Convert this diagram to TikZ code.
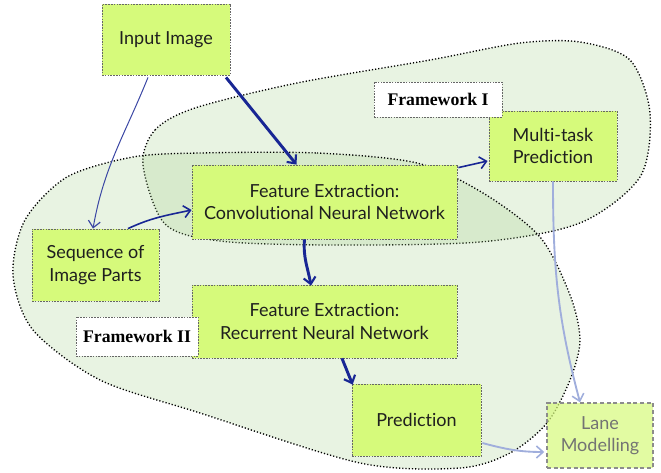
\documentclass[tikz,border=0pt]{standalone}
\usepackage{fontspec}
\setmainfont{Lato}[Ligatures=NoCommon]
\newfontfamily\framefont{Liberation Serif}
\usepackage{tikz}
\usetikzlibrary{arrows.meta}
\usetikzlibrary{calc}
\definecolor{limebox}{RGB}{214,250,123}
\definecolor{blobgreen}{RGB}{163,207,139}
\definecolor{navyarrow}{RGB}{24,38,148}
\definecolor{softarrow}{RGB}{160,174,220}
\tikzset{
	block/.style={draw=black!60, dash pattern=on 1.2pt off 0.9pt, line width=0.6pt,
		fill=limebox, text=black!88, align=center, inner sep=0pt,
		font=\fontsize{13.5}{16.8}\selectfont},
	fadedblock/.style={block, draw=black!45, line width=1.1pt, dash pattern=on 3pt off 2pt,
		fill opacity=0.7, text opacity=1, text=black!55},
	framelabel/.style={draw=black!60, dash pattern=on 1.2pt off 0.9pt, line width=0.6pt,
		fill=white, inner sep=0pt, font=\framefont\bfseries\fontsize{13.3}{16}\selectfont},
	blob/.style={draw=black, line width=1pt, dash pattern=on 0.9pt off 1.5pt,
		fill=blobgreen, fill opacity=0.25},
	flow/.style={draw=navyarrow, line width=2.2pt,
		-{Straight Barb[length=5pt,width=9pt,line width=1.6pt]}},
	midflow/.style={draw=navyarrow, line width=1.2pt,
		-{Straight Barb[length=5pt,width=9pt,line width=1.2pt]}},
	thinflow/.style={draw=navyarrow!85!white, line width=0.75pt,
		-{Straight Barb[length=5pt,width=9pt,line width=0.9pt]}},
	softflow/.style={draw=softarrow, line width=1.4pt,
		-{Straight Barb[length=5pt,width=9pt,line width=1.2pt]}},
}
\begin{document}
\begin{tikzpicture}[x=0.75pt, y=0.75pt]
	\useasboundingbox (0,0) rectangle (661,472);
	% the two frameworks
	\draw[blob] plot[smooth cycle] coordinates {(143,307) (155,342) (195,364) (297,389) (430,412)
		(520,429) (580,430) (630,412) (650,359) (640,295) (580,249) (480,230) (330,227) (220,231) (165,248)};
	\draw[blob] plot[smooth cycle] coordinates {(200,319) (317,319) (417,309) (483,279) (540,235)
		(570,177) (580,132) (570,92) (547,49) (510,19) (460,4) (360,9) (200,59) (100,92) (33,142)
		(13,197) (25,252) (67,295) (133,315)};

	\node[block, minimum width=96pt, minimum height=53.25pt] (input) at (166,432.5) {Input Image};
	\node[block, minimum width=95.25pt, minimum height=54pt] (seq) at (95.5,207) {Sequence of\\Image Parts};
	\node[block, minimum width=198.75pt, minimum height=55.5pt] (cnn) at (324.5,270) {Feature Extraction:\\Convolutional Neural Network};
	\node[block, minimum width=198.75pt, minimum height=54.75pt] (rnn) at (324.5,150.5) {Feature Extraction:\\Recurrent Neural Network};
	\node[block, minimum width=96pt, minimum height=52.5pt] (multi) at (553,326) {Multi-task\\Prediction};
	\node[block, minimum width=96.75pt, minimum height=54pt] (pred) at (416.5,52) {Prediction};
	\node[fadedblock, minimum width=79.5pt, minimum height=48.75pt] (lane) at (600,36.5) {Lane\\Modelling};

	\node[framelabel, minimum width=96pt, minimum height=26.25pt] (fwone) at (438,372.5) {Framework I};
	\node[framelabel, minimum width=91.5pt, minimum height=29.25pt] (fwtwo) at (137,135.5) {Framework II};

	\draw[flow] ($(input.south)+(60,-2)$) -- ($(cnn.north)+(-28,0)$);
	\draw[thinflow] ($(input.south)+(-18,-2)$) to[out=-112, in=80] ($(seq.north)+(-2.5,0)$);
	\draw[midflow] ($(seq.north)+(32.5,0)$) to[out=25, in=192] ($(cnn.west)+(0,-8)$);
	\draw[midflow] ($(cnn.north east)+(1,-3)$) -- ($(multi.west)+(-1,-15)$);
	\draw[flow] ($(cnn.south)+(-20,0)$) to[out=-95, in=100] ($(rnn.north)+(-13.5,-1)$);
	\draw[flow] ($(rnn.south)+(17.5,0)$) -- ($(pred.north west)+(1,-1)$);
	\draw[softflow] (multi.south) to[out=-90, in=105] ($(lane.north)+(-20,0)$);
	\draw[softflow] ($(pred.east)+(1,-23)$) to[out=-15, in=180] ($(lane.west)+(-2,-16.5)$);
\end{tikzpicture}
\end{document}
